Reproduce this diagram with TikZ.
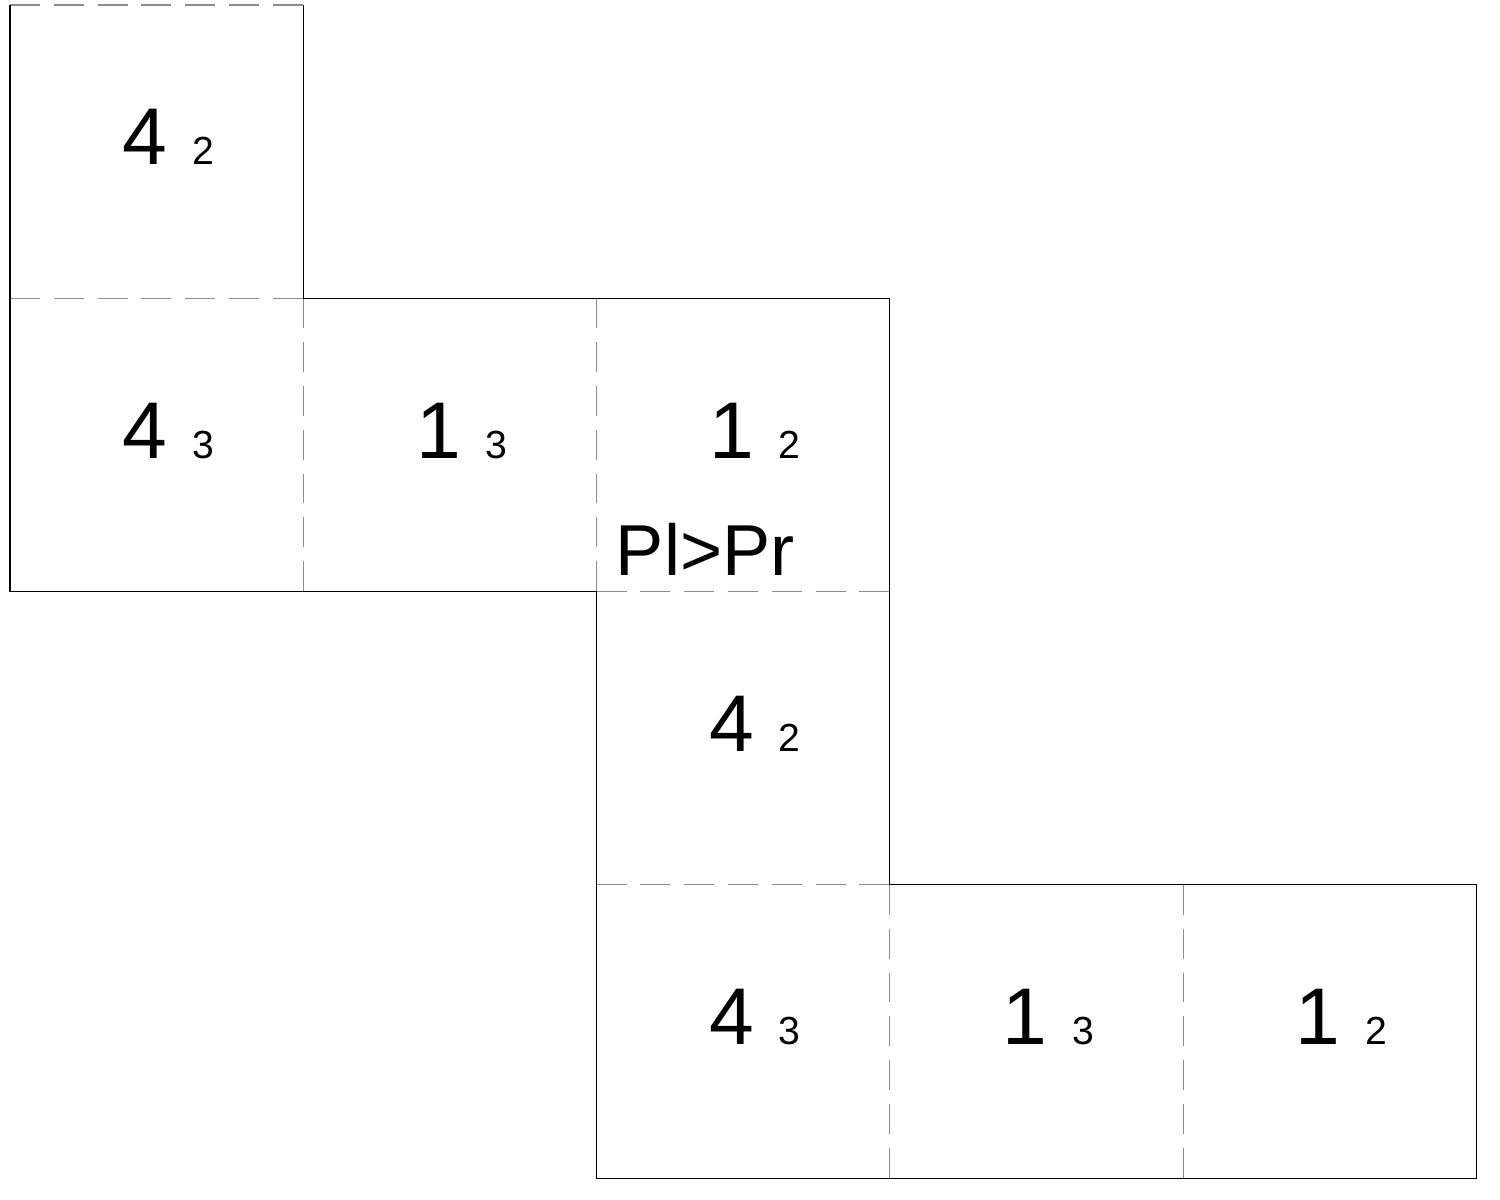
\documentclass[tikz,border=0pt]{standalone}
\usepackage{fontspec}
\setmainfont{Liberation Sans}
\usepackage{tikz}

\tikzset{
  cutline/.style={draw=black, line width=0.45pt},
  foldline/.style={draw=black!45, line width=0.45pt, dash pattern=on 11.6pt off 5.4pt},
  facenum/.style={anchor=base west, inner sep=0pt, font=\fontsize{31.2pt}{31.2pt}\selectfont},
  facenote/.style={anchor=base west, inner sep=0pt, font=\fontsize{28pt}{28pt}\selectfont}
}
\newcommand{\facetext}[2]{#1 \kern1pt{\fontsize{15.2pt}{15.2pt}\selectfont #2}}

\begin{document}
\begin{tikzpicture}[x=4cm, y=4cm]
%%% net of the cube %%%
      \useasboundingbox (-0.0341,-0.0716) rectangle (5.0801,4.0170);

      %% fold lines
      \draw[foldline] (0,4) -- (1,4);
      \draw[foldline] (0,3) -- (1,3);
      \draw[foldline] (1,3) -- (1,2);
      \draw[foldline] (2,3) -- (2,2);
      \draw[foldline] (2,2) -- (3,2);
      \draw[foldline] (2,1) -- (3,1);
      \draw[foldline] (3,1) -- (3,0);
      \draw[foldline] (4,1) -- (4,0);
      \draw[foldline] (4,0) -- (5,0);

      %% outline
      \draw[cutline] (0,4) -- (0,2) -- (2,2);
      \draw[cutline] (1,4) -- (1,3) -- (3,3) -- (3,1) -- (5,1) -- (5,0) -- (4,0);
      \draw[cutline] (2,2) -- (2,0) -- (4,0);

      %% faces
      \foreach \col/\row/\bignum/\subnum/\name in
        {0/4/4/2/a, 0/3/4/3/b, 1/3/1/3/c, 2/3/1/2/d,
         2/2/4/2/e, 2/1/4/3/f, 3/1/1/3/g, 4/1/1/2/h}
      {
        \node[facenum] (face-\name) at (\col+0.3825,\row-0.5455) {\facetext{\bignum}{\subnum}};
      }

      \node[facenote] (note) at (2.0640,2.0556) {Pl>Pr};

\end{tikzpicture}
\end{document}
